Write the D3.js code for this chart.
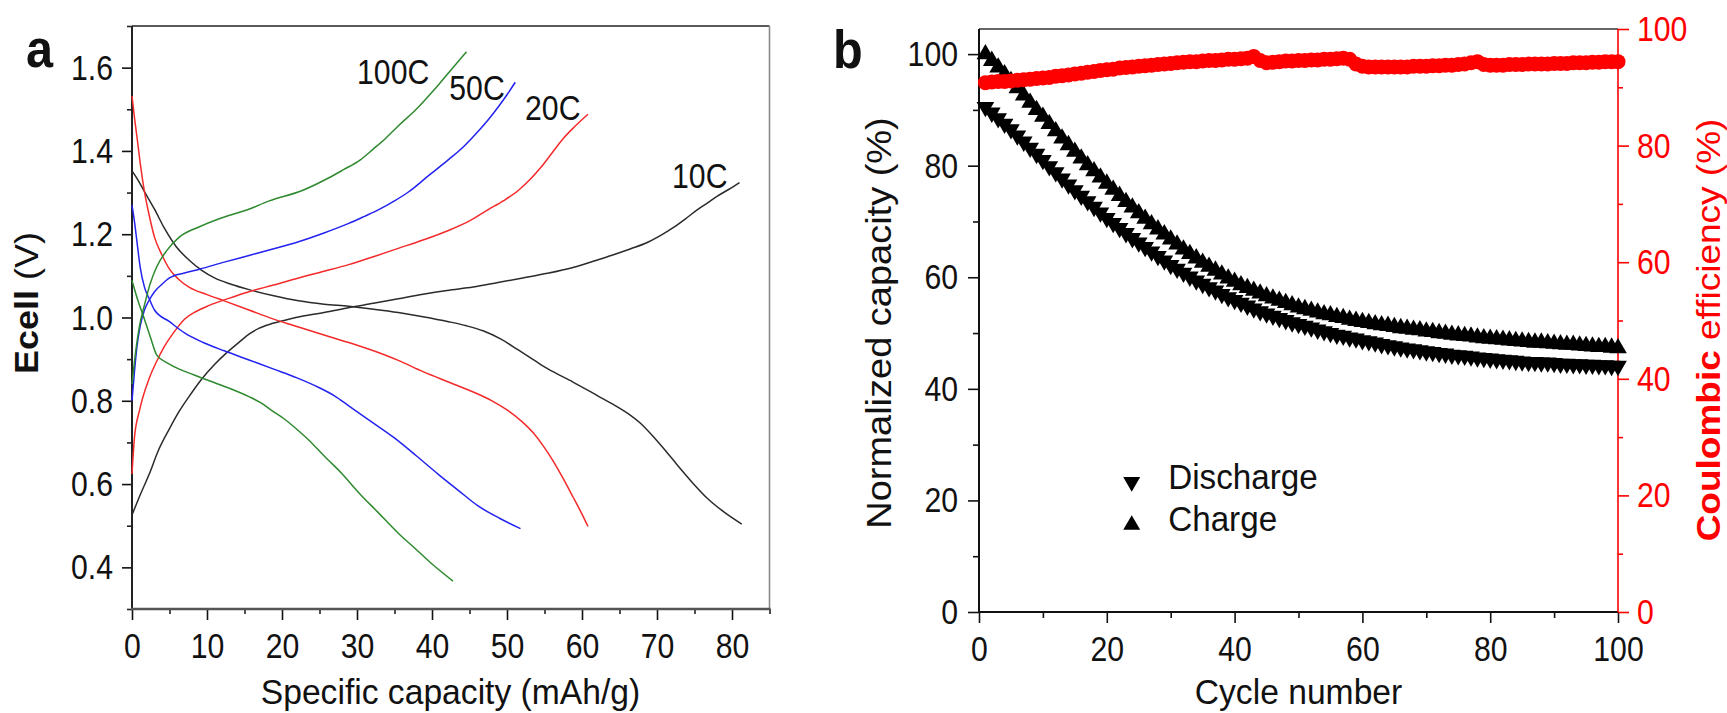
<!DOCTYPE html>
<html lang="en">
<head>
<meta charset="utf-8">
<title>Rate capability and cycling</title>
<script src="https://cdn.jsdelivr.net/npm/d3@7"></script>
<style>
  body { margin: 0; background: #fff; }
  svg { display: block; }
  text { font-family: "Liberation Sans", Arial, sans-serif; fill: #111; }
</style>
</head>
<body>
<script>
// ---------- panel a : [specific capacity (mAh/g), Ecell (V)] ----------
const rates = ["10C", "20C", "50C", "100C"];
const rateColors = { "10C": "#2b2b2b", "20C": "#f42a2a", "50C": "#2323f0", "100C": "#2f8a2f" };

const charge10C = [[0,0.526],[1,0.57],[2.3,0.624],[3.5,0.68],[5,0.733],[6.3,0.775],[7.6,0.81],[9.2,0.85],[11,0.887],[12.6,0.915],[14.3,0.941],[15.6,0.96],[16.9,0.974],[18.8,0.986],[20.9,0.996],[23,1.004],[25.6,1.012],[29,1.024],[32.2,1.034],[35.5,1.045],[38.8,1.056],[42,1.065],[45.5,1.073],[48.8,1.084],[52.1,1.095],[55.4,1.106],[58.8,1.12],[61.5,1.135],[64.1,1.15],[66.5,1.165],[68.7,1.18],[70.5,1.197],[72.1,1.215],[73.8,1.237],[75.4,1.259],[76.8,1.276],[78,1.291],[79.6,1.308],[81,1.324]];
const discharge10C = [[0,1.352],[0.8,1.33],[1.66,1.302],[3,1.26],[4.3,1.215],[5.9,1.17],[7.6,1.138],[9.3,1.113],[11,1.095],[13.2,1.08],[15.6,1.067],[18.9,1.052],[22.2,1.04],[25.6,1.032],[28.9,1.027],[32.2,1.02],[35.5,1.012],[38.8,1.002],[42.2,0.99],[44.6,0.98],[46.8,0.968],[49.2,0.948],[51.5,0.922],[53.5,0.899],[55.4,0.877],[58.8,0.845],[62.1,0.812],[64.1,0.792],[66.1,0.77],[67.8,0.746],[69.4,0.716],[71,0.683],[72.7,0.646],[74.7,0.604],[76.7,0.566],[79,0.532],[81.3,0.504]];

const charge20C = [[0,0.624],[0.33,0.712],[1,0.777],[2.3,0.854],[3.3,0.895],[4.3,0.93],[5.6,0.965],[7,0.996],[8.6,1.015],[10.3,1.029],[12.9,1.046],[15.6,1.062],[18.9,1.078],[22.2,1.095],[25.6,1.111],[28.9,1.127],[32.2,1.146],[35.5,1.166],[38.8,1.186],[42.2,1.209],[45,1.232],[47.5,1.259],[49.5,1.28],[51.5,1.305],[53,1.33],[54.5,1.36],[56,1.395],[57.5,1.43],[59,1.458],[60.8,1.488]];
const discharge20C = [[0,1.532],[0.33,1.48],[0.66,1.434],[1.1,1.37],[1.66,1.302],[2.3,1.245],[3,1.193],[4,1.15],[5,1.116],[6.2,1.092],[7.6,1.073],[10,1.055],[12.3,1.04],[15.6,1.018],[18.9,0.996],[22.2,0.977],[25.6,0.958],[28.9,0.94],[32.2,0.92],[35.5,0.897],[38.8,0.87],[42.2,0.845],[45.5,0.821],[48,0.8],[50.1,0.777],[52,0.75],[53.5,0.723],[54.9,0.69],[56.1,0.657],[57.5,0.613],[58.8,0.569],[59.8,0.535],[60.8,0.498]];

const charge50C = [[0,0.8],[0.33,0.87],[0.66,0.93],[1.1,0.98],[1.66,1.018],[2.3,1.042],[3,1.062],[4,1.08],[5,1.095],[7,1.107],[9,1.116],[12.3,1.133],[15.6,1.149],[18.9,1.165],[22.2,1.182],[25.6,1.203],[28.9,1.226],[31,1.243],[32.9,1.259],[35,1.28],[36.9,1.302],[39.5,1.34],[42.2,1.379],[44.2,1.41],[46.1,1.446],[47.5,1.475],[48.8,1.505],[50,1.535],[51.1,1.565]];
const discharge50C = [[0,1.27],[0.33,1.23],[0.66,1.182],[1.1,1.12],[1.66,1.073],[2.3,1.045],[3,1.018],[5,0.99],[7,0.963],[9.5,0.94],[12.3,0.92],[15.6,0.898],[18.9,0.876],[22,0.855],[24.9,0.832],[27,0.812],[28.9,0.788],[31.9,0.75],[34.9,0.712],[37.9,0.668],[40.8,0.624],[43.5,0.585],[46.1,0.548],[49,0.518],[51.8,0.493]];

const charge100C = [[0,0.84],[0.5,0.92],[1,0.98],[1.66,1.03],[2.4,1.08],[3.3,1.122],[4.6,1.16],[6.3,1.193],[9,1.218],[12.9,1.245],[15.3,1.258],[18.3,1.28],[22.7,1.305],[26.2,1.335],[28.2,1.355],[30.4,1.378],[32.2,1.405],[33.8,1.43],[35.5,1.46],[37.9,1.5],[40.2,1.545],[42.5,1.594],[44.6,1.638]];
const discharge100C = [[0,1.089],[0.8,1.04],[1.66,0.996],[2.5,0.95],[3.32,0.909],[4.8,0.89],[6.3,0.876],[8.3,0.862],[10.3,0.848],[13,0.83],[15.6,0.81],[17.2,0.795],[18.6,0.777],[20.4,0.755],[22.2,0.728],[23.9,0.7],[25.6,0.668],[28,0.625],[30.2,0.58],[32.8,0.532],[35.5,0.482],[37.9,0.443],[40.2,0.405],[42.8,0.367]];

const curvesA = [
  { rate: "10C", pts: charge10C }, { rate: "10C", pts: discharge10C },
  { rate: "20C", pts: charge20C }, { rate: "20C", pts: discharge20C },
  { rate: "50C", pts: charge50C }, { rate: "50C", pts: discharge50C },
  { rate: "100C", pts: charge100C }, { rate: "100C", pts: discharge100C }
];
// where each rate label sits, in data units (capacity, V at baseline)
const rateLabelPos = { "100C": [30.0, 1.561], "50C": [42.3, 1.522], "20C": [52.4, 1.474], "10C": [72.0, 1.311] };

const aXTicks = [0, 10, 20, 30, 40, 50, 60, 70, 80];
const aXMinor = [5, 15, 25, 35, 45, 55, 65, 75, 85];
const aYTicks = [0.4, 0.6, 0.8, 1.0, 1.2, 1.4, 1.6];
const aYMinor = [0.3, 0.5, 0.7, 0.9, 1.1, 1.3, 1.5, 1.7];

// ---------- panel b : per cycle ----------
const cycles = d3.range(1, 101);
const chargeCap = [100,98.8,97.6,96.4,95.2,93.9,92.6,91.3,90.0,88.8,
  87.5,86.2,84.9,83.7,82.5,81.3,80.1,79.0,77.9,76.8,
  75.7,74.6,73.5,72.5,71.5,70.5,69.5,68.6,67.7,66.8,
  65.9,65.0,64.2,63.4,62.6,61.9,61.2,60.5,59.8,59.2,
  58.6,58.1,57.6,57.1,56.6,56.2,55.8,55.4,55.0,54.6,
  54.3,54.0,53.7,53.4,53.2,52.9,52.7,52.4,52.2,52.0,
  51.8,51.6,51.4,51.3,51.1,50.9,50.8,50.6,50.5,50.3,
  50.2,50.0,49.9,49.7,49.6,49.5,49.4,49.2,49.1,49.0,
  48.9,48.8,48.7,48.6,48.5,48.4,48.3,48.3,48.2,48.1,
  48.0,47.9,47.9,47.8,47.7,47.6,47.5,47.5,47.4,47.3];
const dischargeCap = [90.5,89.5,88.5,87.5,86.5,85.4,84.3,83.2,82.1,81.0,
  79.9,78.8,77.7,76.6,75.6,74.6,73.6,72.6,71.6,70.6,
  69.7,68.8,67.9,67.0,66.2,65.4,64.6,63.8,63.0,62.2,
  61.5,60.8,60.1,59.4,58.8,58.2,57.6,57.0,56.4,55.9,
  55.4,54.9,54.4,53.9,53.5,53.1,52.7,52.3,51.9,51.6,
  51.3,51.0,50.6,50.3,50.0,49.7,49.5,49.2,49.0,48.7,
  48.5,48.3,48.0,47.8,47.6,47.4,47.2,47.1,46.9,46.7,
  46.6,46.4,46.3,46.1,46.0,45.9,45.8,45.6,45.5,45.4,
  45.3,45.2,45.1,45.0,44.9,44.8,44.8,44.7,44.7,44.6,
  44.5,44.5,44.4,44.4,44.3,44.3,44.2,44.2,44.1,44.1];
const coulombicEff = [90.8,90.9,91.0,91.0,91.1,91.2,91.3,91.4,91.5,91.6,
  91.7,91.9,92.0,92.1,92.3,92.4,92.6,92.7,92.9,93.0,
  93.1,93.3,93.4,93.5,93.6,93.7,93.8,93.9,94.0,94.1,
  94.2,94.3,94.4,94.4,94.5,94.6,94.6,94.7,94.8,94.8,
  94.9,95.0,95.3,94.6,94.2,94.3,94.4,94.5,94.5,94.6,
  94.6,94.7,94.7,94.8,94.8,94.9,95.0,94.8,94.0,93.6,
  93.5,93.5,93.5,93.5,93.5,93.5,93.5,93.6,93.6,93.6,
  93.7,93.7,93.8,93.8,93.9,94.0,94.2,94.4,93.9,93.8,
  93.8,93.8,93.9,93.9,93.9,94.0,94.0,94.0,94.0,94.1,
  94.1,94.1,94.2,94.2,94.2,94.3,94.3,94.4,94.4,94.4];

const bXTicks = [0, 20, 40, 60, 80, 100];
const bXMinor = [10, 30, 50, 70, 90];
const bYTicks = [0, 20, 40, 60, 80, 100];
const bYMinor = [10, 30, 50, 70, 90];
const legendItems = [
  { name: "Discharge", rot: 180, val: 23.3 },
  { name: "Charge", rot: 0, val: 15.6 }
];

// ---------- drawing ----------
const svg = d3.select("body").append("svg").attr("width", 1727).attr("height", 713);
const TICK_SX = 0.84;
const RED = "#ff0000";

function tidyAxis(g, side, spacing, color) {
  g.select(".domain").remove();
  g.attr("font-family", null).attr("font-size", null);
  g.selectAll("line").attr("stroke", color).attr("stroke-width", 1.6);
  const t = g.selectAll("text").style("font-size", "36px").style("fill", color)
    .attr("transform", `scale(${TICK_SX},1)`);
  if (side === "left") t.attr("x", -spacing / TICK_SX);
  if (side === "right") t.attr("x", spacing / TICK_SX);
}

function title(x, y, parts, size, rotate, sx) {
  const t = svg.append("text")
    .attr("transform", `translate(${x},${y}) scale(${sx},1)` + (rotate ? " rotate(-90)" : ""))
    .attr("text-anchor", "middle")
    .style("font-size", size + "px");
  parts.forEach(p => t.append("tspan").text(p.s).style("font-weight", p.b ? "bold" : "normal")
    .style("fill", p.c || "#111"));
  return t;
}

// ===== panel a =====
const ax = d3.scaleLinear().domain([0, 85]).range([132, 769.5]);
const ay = d3.scaleLinear().domain([0.3, 1.7]).range([609, 26]);

const aMinX = svg.append("g").attr("transform", "translate(0,609)")
  .call(d3.axisBottom(ax).tickValues(aXMinor).tickSize(5).tickSizeOuter(0).tickFormat(""));
tidyAxis(aMinX, "bottom", 0, "#222");
const aMajX = svg.append("g").attr("transform", "translate(0,609)")
  .call(d3.axisBottom(ax).tickValues(aXTicks).tickSize(11).tickPadding(12).tickSizeOuter(0).tickFormat(d3.format("d")));
tidyAxis(aMajX, "bottom", 23, "#111");
const aMinY = svg.append("g").attr("transform", "translate(132,0)")
  .call(d3.axisLeft(ay).tickValues(aYMinor).tickSize(5).tickSizeOuter(0).tickFormat(""));
tidyAxis(aMinY, "left", 0, "#222");
const aMajY = svg.append("g").attr("transform", "translate(132,0)")
  .call(d3.axisLeft(ay).tickValues(aYTicks).tickSize(10).tickPadding(9).tickSizeOuter(0).tickFormat(d3.format(".1f")));
tidyAxis(aMajY, "left", 19, "#111");

// frame
svg.append("line").attr("x1", 132).attr("x2", 769.5).attr("y1", 26).attr("y2", 26).attr("stroke", "#222").attr("stroke-width", 1.6);
svg.append("line").attr("x1", 769.5).attr("x2", 769.5).attr("y1", 26).attr("y2", 609).attr("stroke", "#8a8a8a").attr("stroke-width", 1.6);
svg.append("line").attr("x1", 132).attr("x2", 132).attr("y1", 26).attr("y2", 609).attr("stroke", "#222").attr("stroke-width", 2);
svg.append("line").attr("x1", 131).attr("x2", 770.5).attr("y1", 609).attr("y2", 609).attr("stroke", "#555").attr("stroke-width", 2.6);

const lineA = d3.line().x(d => ax(d[0])).y(d => ay(d[1])).curve(d3.curveMonotoneX);
svg.append("g").selectAll("path").data(curvesA).join("path")
  .attr("d", d => lineA(d.pts))
  .attr("fill", "none")
  .attr("stroke", d => rateColors[d.rate])
  .attr("stroke-width", 1.5);

svg.append("g").selectAll("text").data(rates).join("text")
  .attr("transform", d => `translate(${ax(rateLabelPos[d][0])},${ay(rateLabelPos[d][1])}) scale(${TICK_SX},1)`)
  .style("font-size", "36px")
  .text(d => d);

svg.append("text").attr("transform", "translate(26,67) scale(0.9,1)")
  .style("font-size", "54px").style("font-weight", "bold").text("a");

title(450.5, 704, [{ s: "Specific capacity (mAh/g)" }], 36, false, 0.935);
title(38, 303, [{ s: "Ecell", b: true }, { s: " (V)" }], 36, true, 0.9);

// ===== panel b =====
const bx = d3.scaleLinear().domain([0, 100]).range([979, 1618]);
const byL = d3.scaleLinear().domain([0, 104.5]).range([612, 29]);
const byR = d3.scaleLinear().domain([0, 100]).range([612, 29]);

const bMinX = svg.append("g").attr("transform", "translate(0,612)")
  .call(d3.axisBottom(bx).tickValues(bXMinor).tickSize(6).tickSizeOuter(0).tickFormat(""));
tidyAxis(bMinX, "bottom", 0, "#111");
const bMajX = svg.append("g").attr("transform", "translate(0,612)")
  .call(d3.axisBottom(bx).tickValues(bXTicks).tickSize(11).tickPadding(12).tickSizeOuter(0).tickFormat(d3.format("d")));
tidyAxis(bMajX, "bottom", 23, "#111");
const bMinY = svg.append("g").attr("transform", "translate(979,0)")
  .call(d3.axisLeft(byL).tickValues(bYMinor).tickSize(6).tickSizeOuter(0).tickFormat(""));
tidyAxis(bMinY, "left", 0, "#111");
const bMajY = svg.append("g").attr("transform", "translate(979,0)")
  .call(d3.axisLeft(byL).tickValues(bYTicks).tickSize(11).tickPadding(10).tickSizeOuter(0).tickFormat(d3.format("d")));
tidyAxis(bMajY, "left", 21, "#111");
const bMinR = svg.append("g").attr("transform", "translate(1618,0)")
  .call(d3.axisRight(byR).tickValues(bYMinor).tickSize(5).tickSizeOuter(0).tickFormat(""));
tidyAxis(bMinR, "right", 0, RED);
const bMajR = svg.append("g").attr("transform", "translate(1618,0)")
  .call(d3.axisRight(byR).tickValues(bYTicks).tickSize(11).tickPadding(8).tickSizeOuter(0).tickFormat(d3.format("d")));
tidyAxis(bMajR, "right", 19, RED);

svg.append("line").attr("x1", 979).attr("x2", 1618).attr("y1", 29).attr("y2", 29).attr("stroke", "#333").attr("stroke-width", 1.6);
svg.append("line").attr("x1", 979).attr("x2", 979).attr("y1", 29).attr("y2", 612).attr("stroke", "#111").attr("stroke-width", 2);
svg.append("line").attr("x1", 978).attr("x2", 1618).attr("y1", 612).attr("y2", 612).attr("stroke", "#111").attr("stroke-width", 2);
svg.append("line").attr("x1", 1618).attr("x2", 1618).attr("y1", 29).attr("y2", 612).attr("stroke", RED).attr("stroke-width", 1.6);

const tri = d3.symbol().type(d3.symbolTriangle).size(135);
const gCap = svg.append("g");
gCap.selectAll("path.dis").data(cycles).join("path").attr("class", "dis")
  .attr("d", tri)
  .attr("transform", (c, i) => `translate(${bx(c)},${byL(dischargeCap[i])}) rotate(180)`)
  .attr("fill", "#000");
gCap.selectAll("path.chg").data(cycles).join("path").attr("class", "chg")
  .attr("d", tri)
  .attr("transform", (c, i) => `translate(${bx(c)},${byL(chargeCap[i])})`)
  .attr("fill", "#000");

svg.append("g").selectAll("circle").data(cycles).join("circle")
  .attr("cx", c => bx(c))
  .attr("cy", (c, i) => byR(coulombicEff[i]))
  .attr("r", 7.5)
  .attr("fill", RED);

// legend
const leg = svg.append("g");
leg.selectAll("path").data(legendItems).join("path")
  .attr("d", d3.symbol().type(d3.symbolTriangle).size(125))
  .attr("transform", d => `translate(${bx(23.9)},${byL(d.val)}) rotate(${d.rot})`)
  .attr("fill", "#000");
leg.selectAll("text").data(legendItems).join("text")
  .attr("transform", d => `translate(${bx(29.6)},${byL(d.val) + 6.5}) scale(0.95,1)`)
  .style("font-size", "35px")
  .text(d => d.name);

svg.append("text").attr("transform", "translate(833,68) scale(0.9,1)")
  .style("font-size", "54px").style("font-weight", "bold").text("b");

title(1298.5, 704, [{ s: "Cycle number" }], 36, false, 0.935);
title(891, 323, [{ s: "Normalized capacity (%)" }], 38, true, 0.9);
title(1720, 330, [{ s: "Coulombic", b: true, c: RED }, { s: " efficiency (%)", c: RED }], 37, true, 0.9);
</script>
</body>
</html>
